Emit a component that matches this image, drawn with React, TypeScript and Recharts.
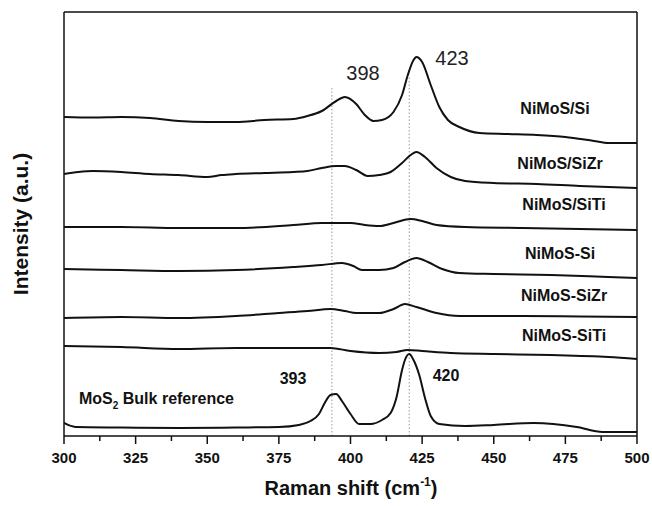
import React from "react";
import { LineChart, Line, XAxis, YAxis, ReferenceLine } from "recharts";

// Raman shift (cm-1) and stacked intensity (a.u., offset) for each sample
const siShift = [300, 310, 320, 330, 340, 350, 360, 370, 380, 385, 390, 395, 398, 402, 405, 408, 411, 415, 418, 420, 422, 423, 425, 428, 431, 434, 438, 445, 455, 465, 475, 485, 490, 500];
const siInt = [319, 318.5, 319, 318, 315, 314, 314, 316, 317, 320, 325, 335, 339, 332, 321, 315, 316, 324, 341, 361, 376, 379, 374, 351, 329, 316, 309, 303, 302, 301, 299, 295, 293, 293];

const siZrShift = [300, 305, 310, 320, 330, 340, 350, 355, 360, 370, 380, 385, 390, 395, 398, 402, 406, 410, 414, 418, 421, 423, 426, 430, 435, 440, 450, 465, 480, 500];
const siZrInt = [262, 264, 265, 264, 262, 261, 259, 261, 262, 263, 264, 265, 268, 270, 270, 266, 260, 261, 264, 273, 281, 284, 279, 268, 259, 255, 253, 252, 250, 248];

const siTiShift = [300, 320, 340, 360, 380, 390, 400, 405, 410, 415, 421, 425, 430, 440, 460, 480, 500];
const siTiInt = [209, 209, 208, 208, 211, 213, 213, 211, 210, 213, 217, 215, 211, 209, 208, 207, 206];

const dashSiShift = [300, 320, 340, 360, 380, 390, 397, 401, 404, 410, 415, 419, 423, 427, 432, 438, 450, 470, 490, 500];
const dashSiInt = [167, 166, 165, 166, 169, 171, 173, 170, 166, 166, 168, 174, 178, 174, 167, 163, 162, 161, 159, 158];

const dashSiZrShift = [300, 320, 340, 360, 375, 385, 393, 398, 402, 410, 415, 419, 423, 430, 438, 460, 480, 500];
const dashSiZrInt = [118, 119, 118, 120, 123, 125, 127, 125, 123, 123, 127, 132, 129, 123, 120, 120, 119.5, 119];

const dashSiTiShift = [300, 320, 340, 360, 380, 393, 400, 410, 416, 420, 425, 435, 450, 470, 490, 500];
const dashSiTiInt = [90, 89, 87, 88, 88, 88, 85, 83, 84, 86, 85, 83, 82, 81, 79, 77];

const bulkShift = [300, 304, 320, 340, 360, 375, 382, 386, 389, 391, 393, 395, 397, 400, 403, 407, 411, 414, 416, 418, 419, 420.5, 422, 424, 426, 428, 431, 440, 450, 464, 479, 488, 500];
const bulkInt = [13, 9, 8.5, 8, 8.5, 9, 11, 15, 22, 33, 41, 42, 35, 22, 12, 12, 16, 23, 38, 66, 76, 82, 76, 61, 38, 20, 12, 10, 11, 13, 9, 4, 4];

const majorTicks = [300, 325, 350, 375, 400, 425, 450, 475, 500];
const allTicks = [300, 312.5, 325, 337.5, 350, 362.5, 375, 387.5, 400, 412.5, 425, 437.5, 450, 462.5, 475, 487.5, 500];

const sampleLabels = [
  { text: "NiMoS/Si", x: 555, y: 108 },
  { text: "NiMoS/SiZr", x: 560, y: 163 },
  { text: "NiMoS/SiTi", x: 564, y: 204 },
  { text: "NiMoS-Si", x: 560, y: 253 },
  { text: "NiMoS-SiZr", x: 564, y: 295 },
  { text: "NiMoS-SiTi", x: 564, y: 335 },
];

const zip = (xs: number[], ys: number[]) => xs.map((x, i) => ({ x, y: ys[i] }));

const series = [
  zip(siShift, siInt),
  zip(siZrShift, siZrInt),
  zip(siTiShift, siTiInt),
  zip(dashSiShift, dashSiInt),
  zip(dashSiZrShift, dashSiZrInt),
  zip(dashSiTiShift, dashSiTiInt),
  zip(bulkShift, bulkInt),
];

const font = "'Liberation Sans', Arial, sans-serif";

const AxisTick = (props: any) => {
  const { x, y, payload } = props;
  const major = majorTicks.includes(payload.value);
  return (
    <g>
      <line x1={x} x2={x} y1={y} y2={y + (major ? 8 : 5)} stroke="#111" strokeWidth={1.5} />
      {major && (
        <text x={x} y={y + 27} textAnchor="middle" fontFamily={font} fontWeight="bold" fontSize={15} fill="#111">
          {payload.value}
        </text>
      )}
    </g>
  );
};

export default function App() {
  return (
    <div style={{ position: "fixed", left: 0, top: 0, background: "#fff" }}>
      <LineChart width={652} height={506} margin={{ top: 12, right: 15, left: 64, bottom: 40 }}>
        <XAxis
          dataKey="x"
          type="number"
          domain={[300, 500]}
          ticks={allTicks}
          interval={0}
          tickLine={false}
          tickSize={0}
          tickMargin={0}
          tick={AxisTick}
          axisLine={{ stroke: "#111", strokeWidth: 1.5 }}
          height={30}
          allowDataOverflow
        />
        <YAxis type="number" domain={[0, 424]} hide allowDataOverflow />
        {/* frame: left, right, top */}
        <ReferenceLine x={300} stroke="#111" strokeWidth={1.5} />
        <ReferenceLine x={500} stroke="#111" strokeWidth={1.5} />
        <ReferenceLine y={424} stroke="#111" strokeWidth={1.5} />
        <ReferenceLine segment={[{ x: 393.5, y: 0 }, { x: 393.5, y: 349 }]} stroke="#999" strokeDasharray="1.5 2" />
        <ReferenceLine segment={[{ x: 420.5, y: 0 }, { x: 420.5, y: 359 }]} stroke="#999" strokeDasharray="1.5 2" />
        {series.map((d, i) => (
          <Line
            key={i}
            data={d}
            dataKey="y"
            type="monotone"
            stroke="#111"
            strokeWidth={2}
            dot={false}
            isAnimationActive={false}
          />
        ))}
        <text x={363} y={80} textAnchor="middle" fontFamily={font} fontSize={20} fill="#222">398</text>
        <text x={452} y={65} textAnchor="middle" fontFamily={font} fontSize={20} fill="#222">423</text>
        <text x={293} y={384} textAnchor="middle" fontFamily={font} fontWeight="bold" fontSize={16} fill="#111">393</text>
        <text x={446} y={381} textAnchor="middle" fontFamily={font} fontWeight="bold" fontSize={16} fill="#111">420</text>
        {sampleLabels.map((l) => (
          <text key={l.text} x={l.x} y={l.y + 6} textAnchor="middle" fontFamily={font} fontWeight="bold" fontSize={16} fill="#111">
            {l.text}
          </text>
        ))}
        <text x={79} y={404} fontFamily={font} fontWeight="bold" fontSize={16} fill="#111">
          MoS<tspan fontSize={10} dy={5}>2</tspan>
          <tspan dy={-5}> Bulk reference</tspan>
        </text>
        <text x={351} y={495} textAnchor="middle" fontFamily={font} fontWeight="bold" fontSize={20} fill="#111">
          Raman shift (cm<tspan fontSize={12} dy={-9}>-1</tspan>
          <tspan dy={9}>)</tspan>
        </text>
        <text
          x={20}
          y={224}
          transform="rotate(-90 20 224)"
          textAnchor="middle"
          dominantBaseline="central"
          fontFamily={font}
          fontWeight="bold"
          fontSize={21}
          fill="#111"
        >
          Intensity (a.u.)
        </text>
      </LineChart>
    </div>
  );
}
